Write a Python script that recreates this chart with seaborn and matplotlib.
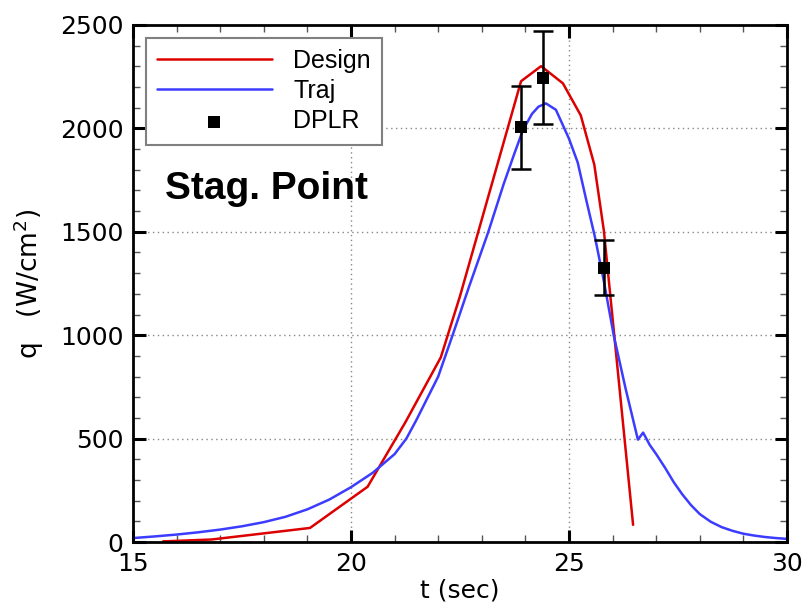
import numpy as np
import pandas as pd
import matplotlib
matplotlib.use("Agg")
import matplotlib.pyplot as plt
import seaborn as sns

# ---- data ----
design_t = [15.69, 16.8, 19.06, 20.38, 21.25, 22.06, 22.5, 23.9, 24.36, 24.86, 25.27, 25.58, 25.80, 26.47]
design_q = [3, 12, 68, 267, 580, 893, 1189, 2228, 2301, 2218, 2063, 1825, 1505, 83]

traj_t = [15.0, 15.5, 16.0, 16.5, 17.0, 17.5, 18.0, 18.5, 19.0, 19.5, 20.0, 20.5, 21.0, 21.27,
          21.5, 22.0, 22.33, 22.7, 23.15, 23.5, 23.75, 23.94, 24.15, 24.3, 24.47, 24.7, 25.0,
          25.2, 25.4, 25.6, 25.8, 26.03, 26.3, 26.58, 26.7, 26.85, 27.0, 27.2, 27.4, 27.6,
          27.8, 28.0, 28.25, 28.5, 28.75, 29.0, 29.25, 29.5, 29.75, 30.0]
traj_q = [19, 27, 36, 47, 60, 76, 96, 122, 158, 205, 265, 335, 425, 500,
          590, 800, 1000, 1230, 1500, 1730, 1880, 1990, 2070, 2105, 2121, 2090, 1950,
          1835, 1650, 1470, 1260, 995, 740, 495, 529, 470, 425, 360, 290, 230,
          178, 135, 98, 72, 54, 40, 31, 24, 19, 15]

dplr_t = [23.9, 24.4, 25.8]
dplr_q = [2005, 2245, 1325]
dplr_err = [200, 225, 133]

x_ticks = [15, 20, 25, 30]
y_ticks = [0, 500, 1000, 1500, 2000, 2500]

design = pd.DataFrame({"t": design_t, "q": design_q})
traj = pd.DataFrame({"t": traj_t, "q": traj_q})
dplr = pd.DataFrame({"t": dplr_t, "q": dplr_q, "err": dplr_err})

sns.set_style("ticks")
plt.rcParams["font.family"] = ["DejaVu Sans"]
for k in ["text.color", "axes.labelcolor", "xtick.color", "ytick.color", "axes.edgecolor"]:
    plt.rcParams[k] = "black"

fig = plt.figure(figsize=(8.11, 6.05), dpi=100)
ax = fig.add_axes([133 / 811, 1 - 542 / 605, (787 - 133) / 811, (542 - 25) / 605])

red = "#dd0000"
blue = "#3c3cff"

sns.lineplot(data=design, x="t", y="q", ax=ax, color=red, lw=1.8, label="Design",
             sort=False, estimator=None)
sns.lineplot(data=traj, x="t", y="q", ax=ax, color=blue, lw=1.8, label="Traj",
             sort=False, estimator=None)
ax.errorbar(dplr["t"], dplr["q"], yerr=dplr["err"], fmt="none", ecolor="black",
            elinewidth=1.8, capsize=7.5, capthick=1.8, zorder=4, label="_nolegend_")
sns.scatterplot(data=dplr, x="t", y="q", ax=ax, marker="s", color="black", s=75,
                edgecolor="black", linewidth=0, label="DPLR", zorder=5)

ax.set_xlim(15, 30)
ax.set_ylim(0, 2500)
ax.set_xticks(x_ticks)
ax.set_yticks(y_ticks)
ax.set_xticks(np.arange(15, 30.01, 1), minor=True)
ax.set_yticks(np.arange(0, 2500.1, 100), minor=True)

ax.grid(True, which="major", linestyle=(0, (1, 2.5)), color="#888888", linewidth=1.0)
ax.tick_params(which="major", direction="in", length=9, width=2.2, top=True, right=True,
               labelsize=18, pad=7, colors="black", labelcolor="black")
ax.tick_params(which="minor", direction="in", length=5, width=1.0, top=True, right=True,
               color="#555555")
for sp in ax.spines.values():
    sp.set_linewidth(2.0)
    sp.set_color("black")

ax.set_xlabel("t (sec)", fontsize=18, labelpad=2, color="black")
ax.set_ylabel("q   (W/cm$^2$)", fontsize=19, labelpad=10, color="black")

ax.text(0.049, 0.663, "Stag. Point", transform=ax.transAxes, ha="left", va="baseline",
        fontsize=28, fontweight="bold", family="Liberation Sans", color="black")

leg = ax.legend(loc="upper left", prop={"family": "Liberation Sans", "size": 18},
                handlelength=4.6, handletextpad=0.85, labelspacing=0.25, borderpad=0.45,
                borderaxespad=0.5, fancybox=False, framealpha=1, edgecolor="#808080",
                scatterpoints=1)
leg.get_frame().set_linewidth(1.5)
for t in leg.get_texts():
    t.set_color("black")

fig.savefig("out.png", dpi=100)
